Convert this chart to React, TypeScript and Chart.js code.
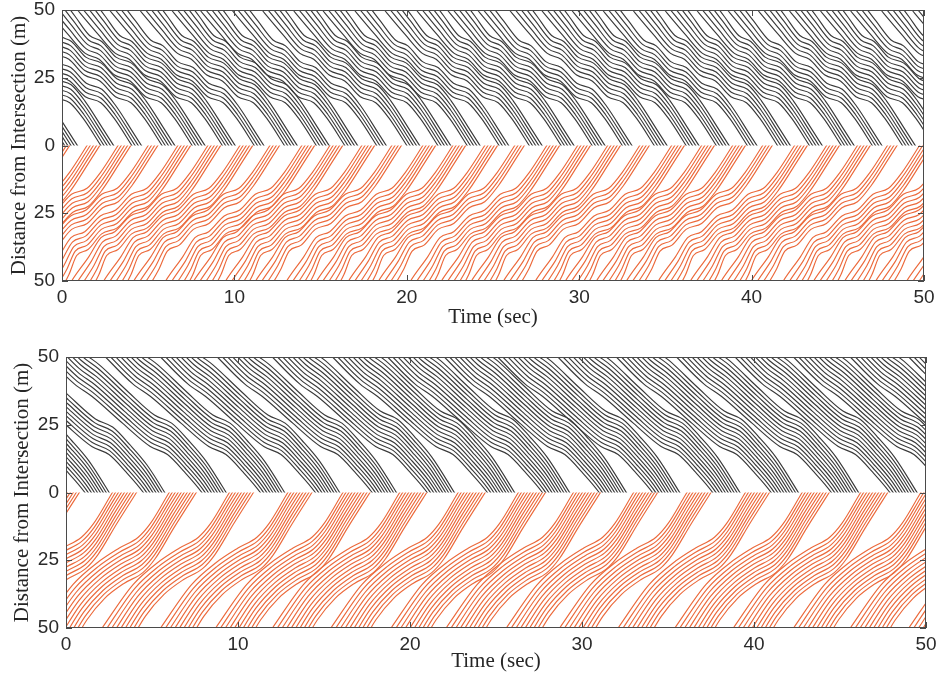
import React, { useEffect, useRef } from "react";
import { Chart, registerables } from "chart.js";

Chart.register(...registerables);

// ---------------- shared axis data ----------------
const X_TICKS = [0, 10, 20, 30, 40, 50];
const Y_TICKS = [-50, -25, 0, 25, 50]; // negative = orange approach, shown as absolute distance
const X_TITLE = "Time (sec)";
const Y_TITLE = "Distance from Intersection (m)";

// ---------------- top panel ----------------
// time (s) at which the leading vehicle of each platoon reaches the intersection
const TOP_BLACK_GROUP_START = [0.15, 2.25, 4.05, 5.8, 7.55, 9.3, 11.15, 12.9, 14.75, 16.4, 18.25, 20.0, 21.8, 23.5, 25.35, 27.1, 28.95, 30.75, 32.5, 34.35, 36.2, 37.95, 39.75, 41.5, 43.35, 45.2, 47.0, 48.75, 50.55, 52.35, 54.1, 55.9, 57.7];
const TOP_BLACK_GROUP_SIZE = [5, 5, 4, 5, 5, 5, 4, 5, 5, 5, 4, 5, 5, 5, 4, 5, 5, 5, 4, 5, 5, 5, 4, 5, 5, 5, 4, 5, 5, 5, 4, 5, 5];
const TOP_ORANGE_GROUP_START = [-0.3, 1.45, 3.25, 5.0, 6.72, 8.46, 10.32, 12.06, 13.91, 15.54, 17.39, 19.13, 20.93, 22.67, 24.52, 26.26, 28.12, 29.91, 31.65, 33.51, 35.36, 37.1, 38.9, 40.64, 42.49, 44.35, 46.14, 47.88, 49.74, 51.5, 53.3, 55.1, 56.9, 58.6];
const TOP_ORANGE_GROUP_SIZE = [5, 5, 5, 4, 5, 5, 5, 4, 5, 5, 5, 4, 5, 5, 5, 4, 5, 5, 5, 4, 5, 5, 5, 4, 5, 5, 5, 4, 5, 5, 5, 4, 5, 5];
// follower offsets inside a platoon: time lag (s), spacing (m)
const TOP_FOLLOW_LAG = 0.02;
const TOP_FOLLOW_GAP = 1.65;
// extra time spread between followers before they join the queue (s)
const TOP_BLACK_UPSTREAM_SPREAD = 0.12;
const TOP_ORANGE_UPSTREAM_SPREAD = 0.18;
// leader trajectory: time to crossing (s), distance (m), how far it sits in the queue (0..1)
const TOP_BLACK_PROFILE_T = [-11.0, -8.4, -7.2, -6.2, -5.4, -4.5, -3.6, -2.7, -1.8, -1.0, 0, 1.0];
const TOP_BLACK_PROFILE_D = [70, 50, 41, 34, 31.8, 26.0, 23.8, 18.0, 15.8, 9.8, 0, -10];
const TOP_BLACK_PROFILE_Q = [0, 0, 0.3, 0.65, 0.85, 1, 1, 1, 1, 1, 1, 1];
const TOP_ORANGE_PROFILE_T = [-9.6, -7.9, -6.9, -6.2, -5.4, -4.5, -3.6, -2.7, -1.8, -1.0, 0, 1.0];
const TOP_ORANGE_PROFILE_D = [70, 50, 41, 34, 31.8, 26.0, 23.8, 18.0, 15.8, 9.8, 0, -10];
const TOP_ORANGE_PROFILE_Q = [0, 0, 0.3, 0.65, 0.85, 1, 1, 1, 1, 1, 1, 1];

// ---------------- bottom panel ----------------
const BOT_BLACK_GROUP_START = [1.1, 4.5, 7.9, 11.3, 14.5, 17.8, 21.0, 24.5, 27.7, 31.0, 34.1, 37.6, 41.0, 44.5, 47.9, 51.3, 54.6, 58.0];
const BOT_BLACK_GROUP_SIZE = [9, 8, 9, 9, 9, 9, 10, 10, 10, 10, 10, 10, 10, 10, 10, 10, 10, 10];
const BOT_ORANGE_GROUP_START = [-0.8, 2.7, 6.0, 9.5, 12.9, 16.1, 19.4, 22.8, 26.3, 29.5, 33.0, 36.1, 39.5, 42.8, 46.2, 49.7, 53.0, 56.4];
const BOT_ORANGE_GROUP_SIZE = [10, 9, 10, 9, 9, 10, 10, 10, 10, 10, 9, 9, 9, 10, 10, 10, 10, 10];
const BOT_FOLLOW_LAG = 0.03;
const BOT_FOLLOW_GAP = 1.45;
const BOT_BLACK_UPSTREAM_SPREAD = 0.05;
const BOT_ORANGE_UPSTREAM_SPREAD = 0.1;
const BOT_BLACK_PROFILE_T = [-12.0, -9.0, -7.4, -6.4, -4.6, -3.0, -2.0, -1.0, 0, 1.5, 2.5];
const BOT_BLACK_PROFILE_D = [70, 50, 40, 35.5, 25.5, 17.0, 14.0, 7.5, 0, -15, -25];
const BOT_BLACK_PROFILE_Q = [0, 0, 0.3, 0.5, 0.8, 1, 1, 1, 1, 1, 1];
const BOT_ORANGE_PROFILE_T = [-9.6, -7.4, -5.6, -4.2, -2.9, -1.8, -1.1, 0, 1.6, 2.2];
const BOT_ORANGE_PROFILE_D = [70, 50, 34, 26, 20.5, 16.5, 11.5, 0, -16, -22];
const BOT_ORANGE_PROFILE_Q = [0, 0, 0.4, 0.8, 1, 1, 1, 1, 1, 1];

const BLACK = "#3a3a3a";
const ORANGE = "#ec6a3c";

type Stream = {
  starts: number[];
  sizes: number[];
  profT: number[];
  profD: number[];
  profQ: number[];
  spread: number;
  sign: number;
  color: string;
};

function buildDatasets(streams: Stream[], lag: number, gap: number) {
  const out: any[] = [];
  streams.forEach((st) => {
    st.starts.forEach((s, gi) => {
      for (let k = 0; k < st.sizes[gi]; k++) {
        const data = st.profT.map((dt, j) => ({
          x: s + dt + k * (lag + (1 - st.profQ[j]) * st.spread),
          y: st.sign * (st.profD[j] + k * gap),
        }));
        out.push({
          data,
          half: st.sign > 0 ? "upper" : "lower",
          borderColor: st.color,
          borderWidth: 1.15,
          pointRadius: 0,
          fill: false,
          cubicInterpolationMode: "monotone",
          clip: 0,
        });
      }
    });
  });
  return out;
}

// each direction's trajectories stop at the intersection line (distance 0)
const halfClipPlugin = {
  id: "halfClip",
  beforeDatasetDraw(chart: any, args: any) {
    const ds = chart.data.datasets[args.index];
    const { ctx, chartArea } = chart;
    const y0 = chart.scales.y.getPixelForValue(0);
    ctx.save();
    ctx.beginPath();
    if (ds.half === "upper") ctx.rect(chartArea.left, chartArea.top, chartArea.right - chartArea.left, y0 - chartArea.top);
    else ctx.rect(chartArea.left, y0, chartArea.right - chartArea.left, chartArea.bottom - y0);
    ctx.clip();
  },
  afterDatasetDraw(chart: any) {
    chart.ctx.restore();
  },
};

const framePlugin = {
  id: "matlabFrame",
  afterDraw(chart: any) {
    const { ctx, chartArea } = chart;
    const { left, right, top, bottom } = chartArea;
    const xs = chart.scales.x;
    const ys = chart.scales.y;
    ctx.save();
    ctx.strokeStyle = "#4a4a4a";
    ctx.lineWidth = 1;
    ctx.strokeRect(left + 0.5, top + 0.5, right - left - 1, bottom - top - 1);
    ctx.beginPath();
    X_TICKS.forEach((v) => {
      const px = Math.round(xs.getPixelForValue(v)) + 0.5;
      ctx.moveTo(px, bottom);
      ctx.lineTo(px, bottom - 6);
      ctx.moveTo(px, top);
      ctx.lineTo(px, top + 6);
    });
    Y_TICKS.forEach((v) => {
      const py = Math.round(ys.getPixelForValue(v)) + 0.5;
      ctx.moveTo(left, py);
      ctx.lineTo(left + 6, py);
      ctx.moveTo(right, py);
      ctx.lineTo(right - 6, py);
    });
    ctx.stroke();
    ctx.restore();
  },
};

type PanelCfg = {
  datasets: any[];
  padding: { left: number; right: number; top: number; bottom: number };
  yWidth: number;
  xHeight: number;
  xTitlePad: number;
  yTitlePad: number;
};

function makeChart(canvas: HTMLCanvasElement, cfg: PanelCfg) {
  const tickFont = { family: "'Liberation Sans', Arial, sans-serif", size: 19, lineHeight: 1.0 };
  const titleFont = { family: "'Liberation Serif', 'Times New Roman', serif", size: 21 };
  return new Chart(canvas, {
    type: "line",
    data: { datasets: cfg.datasets },
    options: {
      responsive: false,
      animation: false,
      devicePixelRatio: 1,
      events: [],
      layout: { padding: cfg.padding },
      plugins: { legend: { display: false }, tooltip: { enabled: false } },
      scales: {
        x: {
          type: "linear",
          min: 0,
          max: 50,
          afterBuildTicks: (s: any) => {
            s.ticks = X_TICKS.map((v) => ({ value: v }));
          },
          afterFit: (s: any) => {
            s.height = cfg.xHeight;
            s.paddingLeft = 0;
            s.paddingRight = 0;
          },
          ticks: { font: tickFont, color: "#2a2a2a", padding: 7, maxRotation: 0, autoSkip: false },
          grid: { display: true, drawOnChartArea: false, drawTicks: false },
          border: { display: false },
          title: { display: true, text: X_TITLE, font: titleFont, color: "#262626", padding: { top: 0, bottom: cfg.xTitlePad } },
        },
        y: {
          type: "linear",
          min: -50,
          max: 50,
          afterBuildTicks: (s: any) => {
            s.ticks = Y_TICKS.map((v) => ({ value: v }));
          },
          afterFit: (s: any) => {
            s.width = cfg.yWidth;
            s.paddingTop = 0;
            s.paddingBottom = 0;
          },
          ticks: {
            font: tickFont,
            color: "#2a2a2a",
            padding: 7,
            autoSkip: false,
            callback: (v: any) => String(Math.abs(Number(v))),
          },
          grid: { display: true, drawOnChartArea: false, drawTicks: false },
          border: { display: false },
          title: { display: true, text: Y_TITLE, font: titleFont, color: "#262626", padding: { top: cfg.yTitlePad, bottom: 0 } },
        },
      },
    } as any,
    plugins: [halfClipPlugin, framePlugin],
  });
}

export default function App() {
  const topRef = useRef<HTMLCanvasElement>(null);
  const botRef = useRef<HTMLCanvasElement>(null);

  useEffect(() => {
    const topSets = buildDatasets(
      [
        { starts: TOP_BLACK_GROUP_START, sizes: TOP_BLACK_GROUP_SIZE, profT: TOP_BLACK_PROFILE_T, profD: TOP_BLACK_PROFILE_D, profQ: TOP_BLACK_PROFILE_Q, spread: TOP_BLACK_UPSTREAM_SPREAD, sign: 1, color: BLACK },
        { starts: TOP_ORANGE_GROUP_START, sizes: TOP_ORANGE_GROUP_SIZE, profT: TOP_ORANGE_PROFILE_T, profD: TOP_ORANGE_PROFILE_D, profQ: TOP_ORANGE_PROFILE_Q, spread: TOP_ORANGE_UPSTREAM_SPREAD, sign: -1, color: ORANGE },
      ],
      TOP_FOLLOW_LAG,
      TOP_FOLLOW_GAP
    );
    const botSets = buildDatasets(
      [
        { starts: BOT_BLACK_GROUP_START, sizes: BOT_BLACK_GROUP_SIZE, profT: BOT_BLACK_PROFILE_T, profD: BOT_BLACK_PROFILE_D, profQ: BOT_BLACK_PROFILE_Q, spread: BOT_BLACK_UPSTREAM_SPREAD, sign: 1, color: BLACK },
        { starts: BOT_ORANGE_GROUP_START, sizes: BOT_ORANGE_GROUP_SIZE, profT: BOT_ORANGE_PROFILE_T, profD: BOT_ORANGE_PROFILE_D, profQ: BOT_ORANGE_PROFILE_Q, spread: BOT_ORANGE_UPSTREAM_SPREAD, sign: -1, color: ORANGE },
      ],
      BOT_FOLLOW_LAG,
      BOT_FOLLOW_GAP
    );
    const c1 = makeChart(topRef.current!, {
      datasets: topSets,
      padding: { left: 0, right: 16, top: 10, bottom: 0 },
      yWidth: 62,
      xHeight: 56,
      xTitlePad: 7,
      yTitlePad: 7,
    });
    const c2 = makeChart(botRef.current!, {
      datasets: botSets,
      padding: { left: 0, right: 14, top: 20, bottom: 0 },
      yWidth: 66,
      xHeight: 47,
      xTitlePad: 1,
      yTitlePad: 10,
    });
    return () => {
      c1.destroy();
      c2.destroy();
    };
  }, []);

  return (
    <div style={{ position: "absolute", left: 0, top: 0, width: 940, height: 675, background: "#ffffff" }}>
      <canvas ref={topRef} width={940} height={337} style={{ position: "absolute", left: 0, top: 0 }} />
      <canvas ref={botRef} width={940} height={338} style={{ position: "absolute", left: 0, top: 337 }} />
    </div>
  );
}
